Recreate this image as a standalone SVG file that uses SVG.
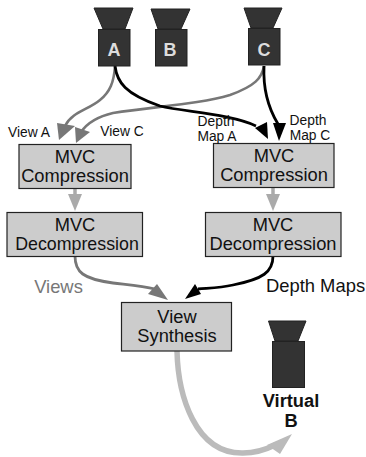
<svg xmlns="http://www.w3.org/2000/svg" width="366" height="457" viewBox="0 0 366 457">
<style>
text{font-family:"Liberation Sans",Arial,sans-serif;fill:#111;text-anchor:middle}
.box{fill:#ccc;stroke:#222;stroke-width:1.2}
.cam{fill:#333;stroke:#222;stroke-width:1}
.big{font-size:18.3px}
.small{font-size:13.8px}
.bold{font-size:18.3px;font-weight:bold}
.camt{font-size:18px;font-weight:bold;fill:#ddd}
.large{font-size:18.4px}
</style>
<rect width="366" height="457" fill="#fff"/>
<g id="connectors">
<path d="M115 66C114 82 110 92 100 100C88 110 72 112 65 126" stroke="#777" stroke-width="2.6" fill="none"/>
<polygon points="59,140 57,123 75,126" fill="#777"/>
<path d="M264 66C262 78 255 86 230 95C200 104 160 106 113 113C100 116 88 122 81 132" stroke="#777" stroke-width="2.6" fill="none"/>
<polygon points="76,143 75,127 90,132" fill="#777"/>
<path d="M115 66C117 82 125 94 160 106C185 112 230 114 256 126" stroke="#000" stroke-width="2.8" fill="none"/>
<polygon points="268,139 255,128 267,122" fill="#000"/>
<path d="M264 66C263 88 267 106 278 124" stroke="#000" stroke-width="2.8" fill="none"/>
<polygon points="279,141 273,123 286,123" fill="#000"/>
<path d="M75 188V196" stroke="#aaa" stroke-width="3.5" fill="none"/>
<polygon points="75,211 68,194 82,194" fill="#aaa"/>
<path d="M273 187V196" stroke="#aaa" stroke-width="3.5" fill="none"/>
<polygon points="273,211 266,194 280,194" fill="#aaa"/>
<path d="M75 256C75 272 83 279 113 283C130 285 143 286 155 289" stroke="#777" stroke-width="2.8" fill="none"/>
<polygon points="168,300 148,294 157,284" fill="#777"/>
<path d="M273 256C273 272 263 279 233 285C220 288 210 288 198 289" stroke="#000" stroke-width="2.8" fill="none"/>
<polygon points="185,299 195,284 201,294" fill="#000"/>
<path d="M177 351C178 395 195 454 243 453C255 453 265 450 275 445" stroke="#bbb" stroke-width="5.500" fill="none"/>
<polygon points="292,434 280,454 267,445" fill="#bbb"/>
</g>
<g id="camA"><polygon class="cam" points="94,8 133,8 125,29 103,29"/><rect class="cam" x="98.500" y="29.500" width="31.500" height="36.500"/><text class="camt" x="114" y="56">A</text></g>
<g id="camB"><polygon class="cam" points="151,9 190,9 181,29 158,29"/><rect class="cam" x="155.500" y="29.500" width="31.500" height="36.500"/><text class="camt" x="170" y="56">B</text></g>
<g id="camC"><polygon class="cam" points="244,8 282,8 273,28 251,28"/><rect class="cam" x="248.500" y="28.500" width="31.500" height="36.500"/><text class="camt" x="264" y="56">C</text></g>
<g id="camV"><polygon class="cam" points="268.500,321 306,321 298,341 275,341"/><rect class="cam" x="272.500" y="341.500" width="32" height="46"/><text class="bold" x="291" y="407">Virtual</text><text class="bold" x="291" y="427">B</text></g>
<g id="compL"><rect class="box" x="19" y="144.500" width="112" height="44"/><text class="big" x="75" y="163">MVC</text><text class="big" x="75" y="182">Compression</text></g>
<g id="compR"><rect class="box" x="213.500" y="143.500" width="120.500" height="44"/><text class="big" x="274" y="162">MVC</text><text class="big" x="274" y="181">Compression</text></g>
<g id="decL"><rect class="box" x="7" y="212.500" width="135.500" height="44"/><text class="big" x="75" y="231">MVC</text><text x="77" y="250" font-size="17.800">Decompression</text></g>
<g id="decR"><rect class="box" x="205.500" y="212.500" width="135.500" height="44"/><text class="big" x="273" y="231">MVC</text><text class="big" x="273" y="250">Decompression</text></g>
<g id="synth"><rect class="box" x="121.500" y="302.500" width="110" height="48.500"/><text class="big" x="177" y="323">View</text><text class="big" x="177" y="342">Synthesis</text></g>
<g id="labels">
<text class="small" x="29" y="137">View A</text>
<text class="small" x="122" y="136">View C</text>
<text class="small" x="216" y="126">Depth</text>
<text class="small" x="217" y="141">Map A</text>
<text class="small" x="308" y="125">Depth</text>
<text class="small" x="310" y="140">Map C</text>
<text class="large" x="58.500" y="293" style="fill:#777">Views</text>
<text class="large" x="315.500" y="292">Depth Maps</text>
</g>
</svg>
